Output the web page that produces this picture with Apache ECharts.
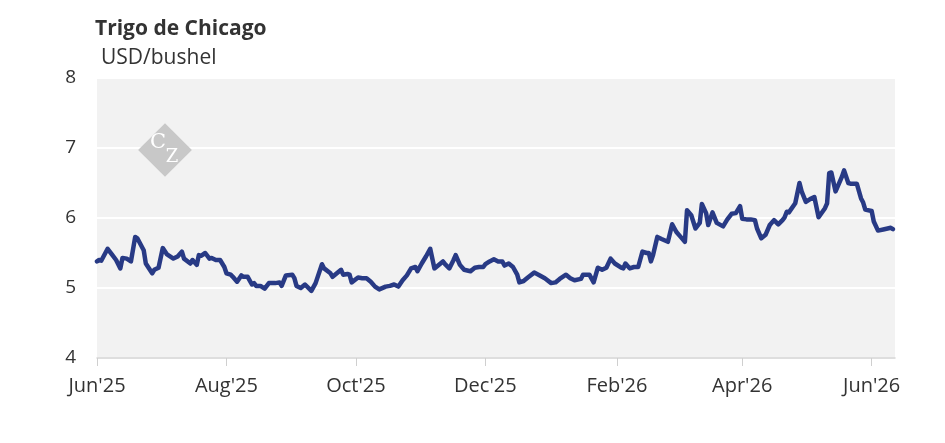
<!DOCTYPE html>
<html>
<head>
<meta charset="utf-8">
<title>Trigo de Chicago</title>
<script src="https://cdn.jsdelivr.net/npm/echarts@6/dist/echarts.min.js"></script>
<style>
  html, body { margin: 0; padding: 0; background: #fff; }
  #main { width: 945px; height: 443px; }
</style>
</head>
<body>
<div id="main"></div>
<script>
// fechas y precios (USD/bushel)
const dates = [
  '2025-06-01','2025-06-02','2025-06-03','2025-06-06','2025-06-08','2025-06-10','2025-06-12','2025-06-13',
  '2025-06-15','2025-06-17','2025-06-19','2025-06-20','2025-06-23','2025-06-24','2025-06-27','2025-06-28',
  '2025-06-30','2025-07-02','2025-07-04','2025-07-07','2025-07-09','2025-07-11','2025-07-12','2025-07-15',
  '2025-07-16','2025-07-18','2025-07-19','2025-07-20','2025-07-22','2025-07-24','2025-07-25','2025-07-27',
  '2025-07-29','2025-07-31','2025-08-01','2025-08-03','2025-08-04','2025-08-06','2025-08-08','2025-08-09',
  '2025-08-11','2025-08-13','2025-08-14','2025-08-15','2025-08-17','2025-08-19','2025-08-21','2025-08-24',
  '2025-08-26','2025-08-27','2025-08-29','2025-09-01','2025-09-02','2025-09-03','2025-09-05','2025-09-07',
  '2025-09-10','2025-09-12','2025-09-15','2025-09-16','2025-09-19','2025-09-20','2025-09-22','2025-09-24',
  '2025-09-25','2025-09-27','2025-09-28','2025-09-29','2025-10-02','2025-10-04','2025-10-06','2025-10-08',
  '2025-10-10','2025-10-12','2025-10-15','2025-10-17','2025-10-19','2025-10-21','2025-10-23','2025-10-25',
  '2025-10-27','2025-10-29','2025-10-30','2025-11-01','2025-11-03','2025-11-05','2025-11-07','2025-11-09',
  '2025-11-11','2025-11-12','2025-11-14','2025-11-16','2025-11-17','2025-11-19','2025-11-21','2025-11-24',
  '2025-11-26','2025-11-28','2025-11-30','2025-12-01','2025-12-03','2025-12-05','2025-12-07','2025-12-09',
  '2025-12-10','2025-12-12','2025-12-14','2025-12-16','2025-12-17','2025-12-19','2025-12-21','2025-12-24',
  '2025-12-26','2025-12-29','2026-01-01','2026-01-03','2026-01-05','2026-01-08','2026-01-10','2026-01-12',
  '2026-01-15','2026-01-16','2026-01-19','2026-01-21','2026-01-23','2026-01-25','2026-01-27','2026-01-29',
  '2026-01-31','2026-02-03','2026-02-04','2026-02-05','2026-02-07','2026-02-09','2026-02-11','2026-02-13',
  '2026-02-15','2026-02-16','2026-02-17','2026-02-18','2026-02-20','2026-02-22','2026-02-25','2026-02-27',
  '2026-03-01','2026-03-03','2026-03-05','2026-03-06','2026-03-08','2026-03-10','2026-03-12','2026-03-13',
  '2026-03-15','2026-03-16','2026-03-18','2026-03-20','2026-03-23','2026-03-25','2026-03-27','2026-03-29',
  '2026-03-31','2026-04-01','2026-04-03','2026-04-05','2026-04-07','2026-04-08','2026-04-10','2026-04-12',
  '2026-04-14','2026-04-16','2026-04-18','2026-04-20','2026-04-21','2026-04-22','2026-04-23','2026-04-26',
  '2026-04-28','2026-04-29','2026-05-01','2026-05-03','2026-05-05','2026-05-07','2026-05-10','2026-05-11',
  '2026-05-12','2026-05-13','2026-05-15','2026-05-18','2026-05-19','2026-05-21','2026-05-22','2026-05-25',
  '2026-05-27','2026-05-28','2026-05-29','2026-06-01','2026-06-02','2026-06-04','2026-06-07','2026-06-10',
  '2026-06-11'
];
const prices = [
  5.38,5.40,5.39,5.56,5.48,5.40,5.28,5.43,
  5.42,5.38,5.73,5.71,5.54,5.35,5.21,5.26,
  5.29,5.57,5.48,5.42,5.45,5.52,5.42,5.35,
  5.40,5.33,5.47,5.46,5.50,5.42,5.43,5.40,
  5.40,5.30,5.21,5.19,5.16,5.09,5.18,5.16,
  5.16,5.05,5.07,5.03,5.03,4.99,5.07,5.07,
  5.08,5.03,5.18,5.19,5.14,5.03,5.00,5.05,
  4.96,5.07,5.34,5.28,5.21,5.16,5.21,5.26,
  5.19,5.20,5.19,5.08,5.15,5.14,5.14,5.09,
  5.02,4.98,5.02,5.03,5.05,5.02,5.11,5.18,
  5.28,5.30,5.24,5.35,5.45,5.56,5.28,5.33,
  5.38,5.34,5.28,5.40,5.47,5.33,5.26,5.24,
  5.29,5.30,5.30,5.34,5.38,5.41,5.38,5.38,
  5.32,5.35,5.30,5.19,5.08,5.10,5.15,5.22,
  5.19,5.14,5.07,5.08,5.13,5.19,5.14,5.11,
  5.13,5.19,5.19,5.08,5.29,5.26,5.29,5.42,
  5.35,5.29,5.28,5.35,5.28,5.30,5.30,5.52,
  5.50,5.50,5.38,5.47,5.73,5.70,5.66,5.91,
  5.80,5.73,5.66,6.11,6.04,5.85,5.93,6.20,
  6.07,5.90,6.08,5.93,5.88,5.98,6.06,6.07,
  6.17,5.99,5.98,5.98,5.97,5.85,5.71,5.76,
  5.90,5.97,5.91,5.97,6.01,6.09,6.08,6.21,
  6.50,6.38,6.23,6.27,6.30,6.01,6.14,6.21,
  6.64,6.65,6.38,6.59,6.68,6.50,6.49,6.49,
  6.28,6.22,6.12,6.10,5.95,5.82,5.84,5.86,
  5.84
];
const tickDates = ['2025-06-01','2025-08-01','2025-10-01','2025-12-01','2026-02-01','2026-04-01','2026-06-01'];
const monthNames = ['Jan','Feb','Mar','Apr','May','Jun','Jul','Aug','Sep','Oct','Nov','Dec'];

function ts(s) {
  const p = s.split('-');
  return new Date(+p[0], p[1] - 1, +p[2]).getTime();
}

const tickValues = tickDates.map(ts);
const seriesData = dates.map((d, i) => [ts(d), prices[i]]);

const chart = echarts.init(document.getElementById('main'));

const option = {
  animation: false,
  textStyle: { fontFamily: 'Open Sans' },
  title: [
    {
      text: 'Trigo de Chicago',
      left: 95, top: 19, padding: 0,
      textStyle: { fontFamily: 'Open Sans', fontSize: 21, fontWeight: 'bold', color: '#333333' }
    },
    {
      text: 'USD/bushel',
      left: 101, top: 48, padding: 0,
      textStyle: { fontFamily: 'Open Sans', fontSize: 21, fontWeight: 'normal', color: '#333333' }
    }
  ],
  grid: {
    left: 97, right: 50, top: 78, bottom: 85,
    show: true,
    backgroundColor: '#f2f2f2',
    borderWidth: 0
  },
  graphic: [
    {
      type: 'rect',
      x: 165, y: 150,
      rotation: Math.PI / 4,
      shape: { x: -19, y: -19, width: 38, height: 38 },
      style: { fill: '#c8c8c8' },
      z: 1
    },
    {
      type: 'text',
      x: 158, y: 143,
      style: { text: 'C', fill: '#ffffff', font: '21px "DejaVu Serif"', align: 'center', verticalAlign: 'middle' },
      z: 1
    },
    {
      type: 'text',
      x: 172, y: 157,
      style: { text: 'Z', fill: '#ffffff', font: '18px "DejaVu Serif"', align: 'center', verticalAlign: 'middle' },
      z: 1
    }
  ],
  xAxis: {
    type: 'value',
    min: ts('2025-06-01'),
    max: ts('2026-06-12'),
    axisLine: { show: true, onZero: false, lineStyle: { color: '#d4d4d4', width: 1.5 } },
    axisTick: {
      show: true,
      customValues: tickValues,
      length: 8,
      lineStyle: { color: '#cfcfcf', width: 1 }
    },
    axisLabel: {
      customValues: tickValues,
      margin: 18,
      fontSize: 20,
      color: '#333333',
      fontFamily: 'Open Sans',
      formatter: function (val) {
        const d = new Date(val);
        return monthNames[d.getMonth()] + "'" + String(d.getFullYear()).slice(2);
      }
    },
    splitLine: { show: false }
  },
  yAxis: {
    type: 'value',
    min: 4, max: 8, interval: 1,
    axisLine: { show: false },
    axisTick: { show: false },
    axisLabel: { fontSize: 19, color: '#333333', margin: 21, fontFamily: 'Open Sans' },
    splitLine: { show: true, lineStyle: { color: '#ffffff', width: 2 } }
  },
  series: [
    {
      type: 'line',
      data: seriesData,
      showSymbol: false,
      symbol: 'none',
      lineStyle: { color: '#283a85', width: 4.5, join: 'round', cap: 'round' },
      z: 3
    }
  ]
};

chart.setOption(option);
</script>
</body>
</html>
